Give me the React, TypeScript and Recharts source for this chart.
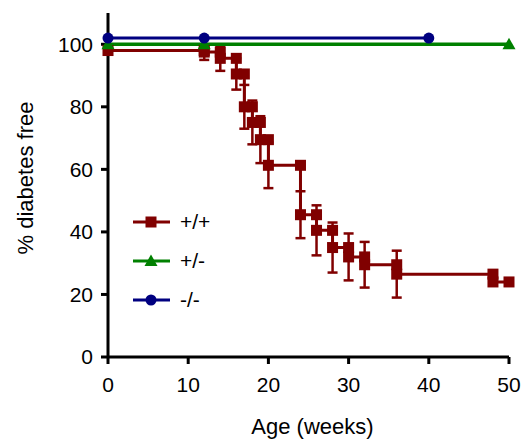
import React from 'react';
import { LineChart, Line, XAxis, YAxis, ErrorBar, Legend, Label } from 'recharts';

const RED = '#800000';
const GREEN = '#008000';
const BLUE = '#000080';
const FONT = '"Liberation Sans", Arial, sans-serif';

// +/+ (Kaplan-Meier steps, two points per event)
const wtWeeks = [0, 12, 12, 14, 14, 16, 16, 17, 17, 18, 18, 19, 19, 20, 20, 24, 24, 26, 26, 28, 28, 30, 30, 32, 32, 36, 36, 48, 48, 50];
const wtFree = [98, 98, 97.5, 97.5, 95.5, 95.5, 90.5, 90.5, 80, 80, 75, 75, 69.5, 69.5, 61.3, 61.3, 45.5, 45.5, 40.5, 40.5, 35, 35, 32, 32, 29.5, 29.5, 26.5, 26.5, 24, 24];
const wtErr = [0, 0, 2.5, 0, 4, 0, 5, 0, 7, 0, 7, 0, 7.5, 0, 7.3, 0, 7.5, 0, 8, 0, 8, 0, 7.5, 0, 7.3, 0, 7.5, 0, 0, 0];

// +/-
const hetWeeks = [0, 12, 50];
const hetFree = [100, 100, 100];

// -/-
const koWeeks = [0, 12, 40];
const koFree = [102, 102, 102];

const xTicks = [0, 10, 20, 30, 40, 50];
const yTicks = [0, 20, 40, 60, 80, 100];

const wtData = wtWeeks.map((week, i) => ({ week, free: wtFree[i], err: wtErr[i] || undefined }));
const hetData = hetWeeks.map((week, i) => ({ week, free: hetFree[i] }));
const koData = koWeeks.map((week, i) => ({ week, free: koFree[i] }));

const legendItems = [
  { name: '+/+', color: RED, shape: 'square' },
  { name: '+/-', color: GREEN, shape: 'triangle' },
  { name: '-/-', color: BLUE, shape: 'circle' },
];

const marker = (shape: string, color: string, cx: number, cy: number, key?: string) => {
  if (shape === 'square') {
    return <rect key={key} x={cx - 5.5} y={cy - 5.5} width={11} height={11} fill={color} />;
  }
  if (shape === 'triangle') {
    return <polygon key={key} points={`${cx},${cy - 6.5} ${cx + 6.5},${cy + 5} ${cx - 6.5},${cy + 5}`} fill={color} />;
  }
  return <circle key={key} cx={cx} cy={cy} r={5.5} fill={color} />;
};

const makeDot = (shape: string, color: string) => (props: any) => {
  const { cx, cy, index } = props;
  if (cx == null || cy == null) return <g key={`e-${index}`} />;
  return marker(shape, color, cx, cy, `d-${shape}-${index}`);
};

const renderLegend = () => (
  <div style={{ fontFamily: FONT, fontSize: 21, color: '#000' }}>
    {legendItems.map((item) => (
      <div key={item.name} style={{ display: 'flex', alignItems: 'center', height: 39 }}>
        <svg width={38} height={20}>
          <line x1={0} y1={10} x2={37} y2={10} stroke={item.color} strokeWidth={3} />
          {marker(item.shape, item.color, 18, 10)}
        </svg>
        <span style={{ marginLeft: 9 }}>{item.name}</span>
      </div>
    ))}
  </div>
);

export default function App() {
  const tickStyle = { fill: '#000', fontSize: 21, fontFamily: FONT };
  return (
    <div style={{ position: 'absolute', left: 0, top: 0, background: '#fff' }}>
      <LineChart width={522} height={441} margin={{ top: 13, right: 13, bottom: 0, left: 0 }}>
        <XAxis
          type="number"
          dataKey="week"
          domain={[0, 50]}
          ticks={xTicks}
          interval={0}
          height={84}
          tick={tickStyle}
          tickSize={7}
          tickMargin={13}
          axisLine={{ stroke: '#000', strokeWidth: 3 }}
          tickLine={{ stroke: '#000', strokeWidth: 3 }}
          allowDuplicatedCategory
        >
          <Label value="Age (weeks)" position="insideBottom" offset={7} dx={4} fill="#000" fontSize={22} fontFamily={FONT} />
        </XAxis>
        <YAxis
          type="number"
          domain={[0, 110]}
          ticks={yTicks}
          interval={0}
          width={108}
          tick={tickStyle}
          tickSize={7}
          tickMargin={8}
          axisLine={{ stroke: '#000', strokeWidth: 3 }}
          tickLine={{ stroke: '#000', strokeWidth: 3 }}
        >
          <Label value="% diabetes free" angle={-90} position="center" dx={-29} dy={-7} fill="#000" fontSize={22} fontFamily={FONT} />
        </YAxis>
        <Legend
          layout="vertical"
          align="center"
          verticalAlign="middle"
          content={renderLegend}
          wrapperStyle={{ left: 133, top: 202, width: 120, height: 120 }}
        />
        <Line
          data={wtData}
          dataKey="free"
          stroke={RED}
          strokeWidth={3}
          type="linear"
          dot={makeDot('square', RED)}
          activeDot={false}
          isAnimationActive={false}
        >
          <ErrorBar dataKey="err" direction="y" width={5} stroke={RED} strokeWidth={2.5} isAnimationActive={false} />
        </Line>
        <Line
          data={hetData}
          dataKey="free"
          stroke={GREEN}
          strokeWidth={3.5}
          type="linear"
          dot={makeDot('triangle', GREEN)}
          activeDot={false}
          isAnimationActive={false}
        />
        <Line
          data={koData}
          dataKey="free"
          stroke={BLUE}
          strokeWidth={3}
          type="linear"
          dot={makeDot('circle', BLUE)}
          activeDot={false}
          isAnimationActive={false}
        />
      </LineChart>
    </div>
  );
}
